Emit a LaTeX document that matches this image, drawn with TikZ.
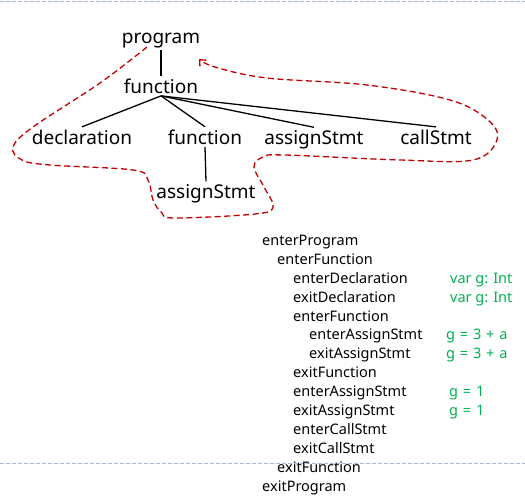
\documentclass[tikz,border=0pt]{standalone}
\usepackage{fontspec}
\setmainfont{Noto Sans}
\usetikzlibrary{arrows.meta}
\definecolor{gr}{HTML}{00B050}
\definecolor{dred}{HTML}{C00000}
\definecolor{sep}{HTML}{A5B8CE}
\begin{document}
\begin{tikzpicture}[x=1pt,y=-1pt,
  tree/.style={font=\fontsize{19}{21}\selectfont, inner sep=2.5pt, anchor=base},
  ev/.style={font=\fontsize{14.5}{16}\selectfont, inner sep=0pt, anchor=base west},
  code/.style={ev, text=gr},
  edge/.style={line width=1.3pt},
  sepline/.style={sep, line width=0.8pt, dash pattern=on 4pt off 2pt}]
\useasboundingbox (0,0) rectangle (525,496);
\draw[sepline] (0,1.5) -- (525,1.5);
\draw[sepline] (0,463) -- (525,463);
% tree
\node[tree] (prog) at (161,43) {program};
\node[tree] (fun) at (161,93) {function};
\node[tree] (decl) at (82,144) {declaration};
\node[tree] (fun2) at (205,144) {function};
\node[tree] (asg) at (314,144) {assignStmt};
\node[tree] (call) at (436,144) {callStmt};
\node[tree] (asg2) at (206,198) {assignStmt};
\draw[edge] (prog.south) -- (fun.north);
\draw[edge] (fun.south) -- (decl.north);
\draw[edge] (fun.south) -- (fun2.north);
\draw[edge] (fun.south) -- (asg.north);
\draw[edge] (fun.south) -- (call.north);
\draw[edge] (fun2.south) -- (asg2.north);
% traversal curve
\draw[dred, line width=1.3pt, dash pattern=on 6pt off 3.5pt, -{Straight Barb[length=5pt,width=9pt]}]
  plot[smooth, tension=0.6] coordinates {(147,47) (100,83) (33,127) (13,147) (22,160) (50,165) (133,170) (148,180) (153,200) (162,213) (175,218) (255,214) (273,207) (264,187) (254,167) (263,157) (285,155) (400,160) (473,160) (497,140) (488,120) (450,100) (367,85) (267,78) (215,67) (199,59)};
% event list
\node[ev] (e1) at (262,245) {enterProgram};
\node[ev] (e2) at (277,264) {enterFunction};
\node[ev] (e3) at (293,283) {enterDeclaration};
\node[ev] (e4) at (293,302) {exitDeclaration};
\node[ev] (e5) at (293,321) {enterFunction};
\node[ev] (e6) at (309,339) {enterAssignStmt};
\node[ev] (e7) at (309,358) {exitAssignStmt};
\node[ev] (e8) at (293,377) {exitFunction};
\node[ev] (e9) at (293,396) {enterAssignStmt};
\node[ev] (e10) at (293,415) {exitAssignStmt};
\node[ev] (e11) at (293,434) {enterCallStmt};
\node[ev] (e12) at (293,453) {exitCallStmt};
\node[ev] (e13) at (277,472) {exitFunction};
\node[ev] (e14) at (262,491) {exitProgram};
\node[code] (c1) at (450,283) {var g: Int};
\node[code] (c2) at (450,302) {var g: Int};
\node[code] (c3) at (446,339) {g\,\,=\,\,3\,\,+\,\,a};
\node[code] (c4) at (446,358) {g\,\,=\,\,3\,\,+\,\,a};
\node[code] (c5) at (449,396) {g\,\,=\,\,1};
\node[code] (c6) at (449,415) {g\,\,=\,\,1};
\end{tikzpicture}
\end{document}
